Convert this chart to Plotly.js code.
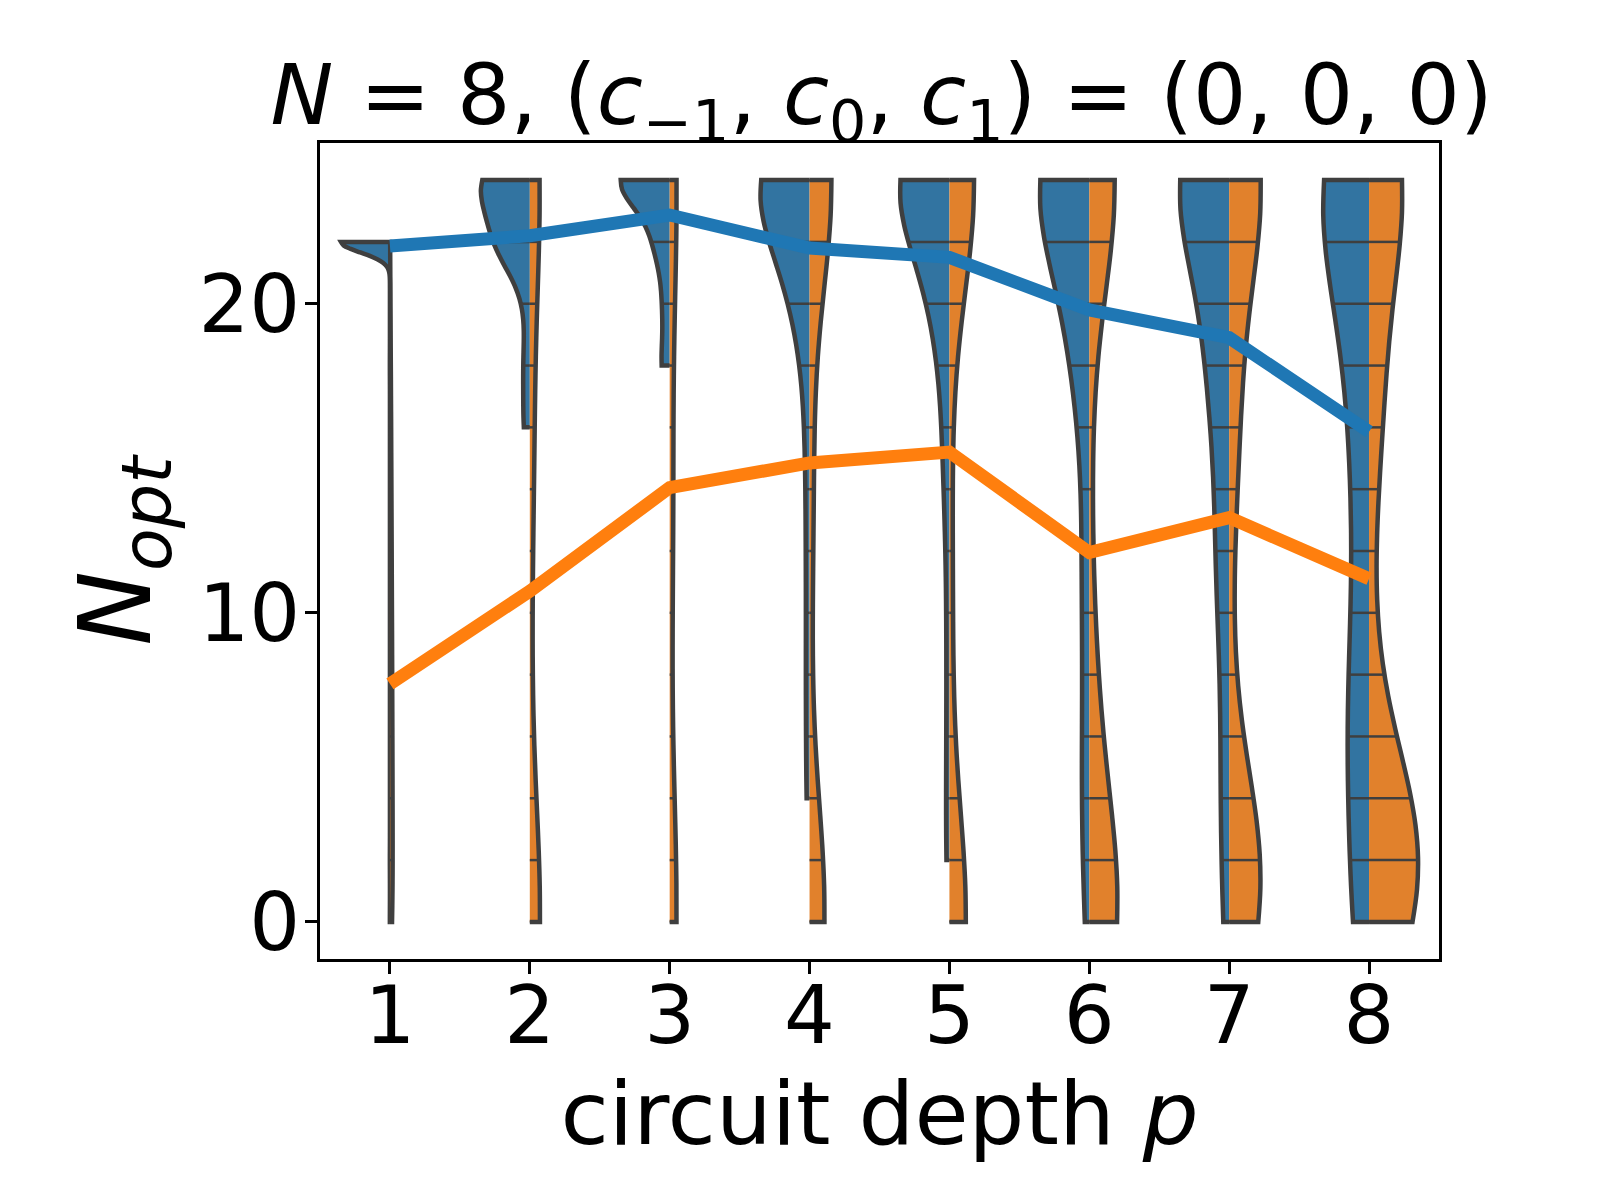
<!DOCTYPE html>
<html>
<head>
<meta charset="utf-8">
<script src="https://cdn.plot.ly/plotly-3.0.1.min.js"></script>
</head>
<body style="margin:0">
<div id="plot" style="width:1600px;height:1200px"></div>
<script>
// circuit depths and the N_opt values that occur
var depths = [1, 2, 3, 4, 5, 6, 7, 8];
var nValues = [0, 2, 4, 6, 8, 10, 12, 14, 16, 18, 20, 22, 24];

// how many instances gave each N_opt value, one row per depth
var blueCounts = [
  [1, 1, 0, 0, 0, 0, 0, 0, 0, 1, 0, 597, 0],
  [0, 0, 0, 0, 0, 0, 0, 0, 3, 3, 2, 17, 25],
  [0, 0, 0, 0, 0, 0, 0, 0, 0, 5, 4, 9, 32],
  [0, 0, 3, 1, 3, 1, 3, 1, 4, 1, 13, 12, 58],
  [0, 3, 1, 2, 1, 2, 1, 3, 5, 1, 15, 5, 61],
  [2, 3, 3, 3, 2, 2, 5, 1, 1, 10, 10, 1, 57],
  [4, 1, 4, 3, 1, 3, 9, 1, 2, 16, 3, 1, 52],
  [12, 1, 2, 11, 5, 2, 3, 5, 5, 5, 5, 5, 39]
];
var orangeCounts = [
  [80, 80, 75, 70, 65, 58, 50, 42, 35, 26, 13, 6, 0],
  [90, 5, 5, 5, 5, 5, 5, 5, 25, 5, 5, 5, 85],
  [51, 3, 3, 3, 3, 3, 6, 15, 3, 3, 3, 3, 51],
  [93, 12, 3, 3, 3, 3, 3, 18, 3, 3, 3, 3, 150],
  [102, 3, 3, 3, 3, 9, 6, 3, 3, 3, 3, 3, 156],
  [114, 12, 6, 24, 6, 3, 3, 3, 3, 3, 3, 3, 117],
  [51, 72, 6, 3, 3, 3, 3, 3, 21, 12, 3, 3, 117],
  [63, 48, 48, 3, 3, 3, 3, 3, 12, 21, 3, 3, 87]
];

// mean N_opt per depth
var blueMean = [21.87, 22.2, 22.87, 21.8, 21.5, 19.8, 18.9, 15.86];
var orangeMean = [7.7, 10.7, 14.05, 14.85, 15.2, 11.95, 13.08, 11.1];

var blueFill = "#3274a1", orangeFill = "#e1812c", edge = "#3f3f3f";
var halfWidth = 0.35;

function expand(counts) {
  var v = [];
  counts.forEach(function (c, i) { for (var k = 0; k < c; k++) v.push(nValues[i]); });
  return v;
}

// scott bandwidth, like seaborn
function scott(v) {
  var n = v.length, m = 0, s = 0;
  v.forEach(function (x) { m += x; });
  m /= n;
  v.forEach(function (x) { s += (x - m) * (x - m); });
  return Math.sqrt(s / (n - 1)) * Math.pow(n, -0.2);
}

function kde(v, bw, y) {
  var s = 0;
  v.forEach(function (x) { var u = (y - x) / bw; s += Math.exp(-0.5 * u * u); });
  return s / (Math.sqrt(2 * Math.PI) * v.length * bw);
}

// same sampling plotly uses for its violin curve
function maxKde(v, bw) {
  var lo = Math.min.apply(null, v), hi = Math.max.apply(null, v);
  var dist = hi - lo, m = Math.ceil(dist / (bw / 3)), step = dist / m, best = 0;
  for (var t = lo; t < hi + step / 2; t += step) best = Math.max(best, kde(v, bw, t));
  return best;
}

var violins = [], sticks = { blue: { x: [], y: [] }, orange: { x: [], y: [] } };

depths.forEach(function (p, i) {
  var sides = [
    { key: "blue", counts: blueCounts[i], side: "negative", fill: blueFill, sign: -1 },
    { key: "orange", counts: orangeCounts[i], side: "positive", fill: orangeFill, sign: 1 }
  ];
  sides.forEach(function (s) {
    s.vals = expand(s.counts);
    s.bw = scott(s.vals);
    s.max = maxKde(s.vals, s.bw);
  });
  var groupMax = Math.max(sides[0].max, sides[1].max);
  sides.forEach(function (s) {
    violins.push({
      type: "violin",
      x: s.vals.map(function () { return p; }),
      y: s.vals,
      side: s.side,
      width: 2 * halfWidth * s.max / groupMax,
      bandwidth: s.bw,
      spanmode: "hard",
      points: false,
      box: { visible: false },
      meanline: { visible: false },
      fillcolor: s.fill,
      line: { color: edge, width: 4.5 },
      hoverinfo: "skip",
      showlegend: false
    });
    s.counts.forEach(function (c, k) {
      if (!c) return;
      var y = nValues[k];
      var w = kde(s.vals, s.bw, y) / groupMax * halfWidth;
      sticks[s.key].x.push(p, p + s.sign * w, null);
      sticks[s.key].y.push(y, y, null);
    });
  });
});

var stickTraces = ["blue", "orange"].map(function (k) {
  return {
    type: "scatter", mode: "lines", x: sticks[k].x, y: sticks[k].y,
    line: { color: edge, width: 2.5 }, hoverinfo: "skip", showlegend: false
  };
});

var meanBlue = {
  type: "scatter", mode: "lines", x: depths, y: blueMean,
  line: { color: "#1f77b4", width: 13 }, showlegend: false
};
var meanOrange = {
  type: "scatter", mode: "lines", x: depths, y: orangeMean,
  line: { color: "#ff7f0e", width: 13 }, showlegend: false
};

var font = "DejaVu Sans";
var axisStyle = {
  showline: true, mirror: true, linecolor: "black", linewidth: 2.5,
  ticks: "outside", ticklen: 12, tickwidth: 2.5, tickcolor: "black",
  showgrid: false, zeroline: false,
  tickfont: { family: font, size: 80, color: "black" }
};

var layout = {
  width: 1600, height: 1200,
  margin: { l: 320, r: 161, t: 143, b: 241 },
  paper_bgcolor: "white", plot_bgcolor: "white",
  violinmode: "overlay",
  title: {
    text: "<i>N</i> = 8, (<i>c</i><sub>\u22121</sub>, <i>c</i><sub>0</sub>, <i>c</i><sub>1</sub>) = (0, 0, 0)",
    font: { family: font, size: 84, color: "black" },
    x: 0.551, xanchor: "center", y: 0.921, yanchor: "middle"
  },
  xaxis: Object.assign({}, axisStyle, {
    range: [0.5, 8.5], tickvals: depths, ticklabelstandoff: -27,
    title: { text: "circuit depth <i>p</i>", font: { family: font, size: 88, color: "black" }, standoff: 20 }
  }),
  yaxis: Object.assign({}, axisStyle, {
    range: [-1.2, 25.2], tickvals: [0, 10, 20], ticklabelstandoff: -11,
    title: { text: "<i>N</i><sub><i>opt</i></sub>", font: { family: font, size: 100, color: "black" }, standoff: 15 }
  })
};

Plotly.newPlot("plot", violins.concat(stickTraces, [meanBlue, meanOrange]), layout, { displayModeBar: false });
</script>
</body>
</html>
